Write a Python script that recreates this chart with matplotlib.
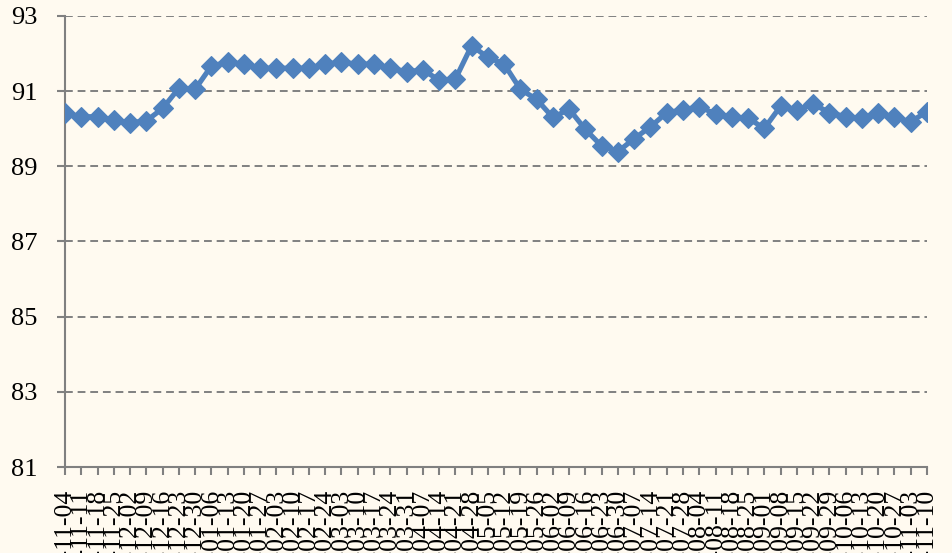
import datetime as dt
import matplotlib
matplotlib.use("Agg")
import matplotlib.pyplot as plt

# weekly values, starting 2013-11-04
start = dt.date(2013, 11, 4)
values = [90.41, 90.32, 90.32, 90.23, 90.16, 90.21, 90.54, 91.08, 91.05, 91.67,
          91.77, 91.72, 91.61, 91.61, 91.61, 91.61, 91.72, 91.77, 91.72, 91.72,
          91.61, 91.52, 91.56, 91.30, 91.32, 92.21, 91.90, 91.72, 91.05, 90.78,
          90.30, 90.52, 89.98, 89.54, 89.39, 89.74, 90.05, 90.43, 90.50, 90.59,
          90.39, 90.32, 90.28, 90.01, 90.60, 90.50, 90.66, 90.43, 90.32, 90.28,
          90.43, 90.30, 90.19, 90.45]
dates = [(start + dt.timedelta(days=7 * i)).strftime("%Y-%m-%d") for i in range(len(values))]
yticks = [81, 83, 85, 87, 89, 91, 93]

bg = "#FFFAF0"
gray = "#808080"
plt.rcParams["font.family"] = ["Liberation Serif", "DejaVu Serif"]

fig = plt.figure(figsize=(9.52, 5.53), dpi=100, facecolor=bg)
ax = fig.add_axes([0.0683, 0.1555, 0.9054, 0.8156], facecolor=bg)

x = list(range(len(values)))
ax.plot(x, values, color="#4F81BD", linewidth=3.7, marker="D", markersize=10.5,
        markerfacecolor="#4F81BD", markeredgecolor="#4F81BD", markeredgewidth=0.8, zorder=3)

ax.set_xlim(0, len(values) - 1)
ax.set_ylim(81, 93)
ax.set_yticks(yticks)
ax.set_xticks(x)
ax.set_xticklabels(dates, rotation=90)

for y in yticks[1:]:
    ax.axhline(y, color=gray, linestyle=(0, (4, 2.5)), linewidth=1.4, zorder=1)

for s in ["top", "right"]:
    ax.spines[s].set_visible(False)
for s in ["left", "bottom"]:
    ax.spines[s].set_color(gray)
    ax.spines[s].set_linewidth(1.5)

ax.tick_params(axis="y", colors=gray, length=6, width=1.5, pad=14, labelsize=19, labelcolor="black")
ax.tick_params(axis="x", colors=gray, length=6, width=1.5, pad=10, labelsize=18.5, labelcolor="black")

fig.savefig("out.png", dpi=100, facecolor=bg)
